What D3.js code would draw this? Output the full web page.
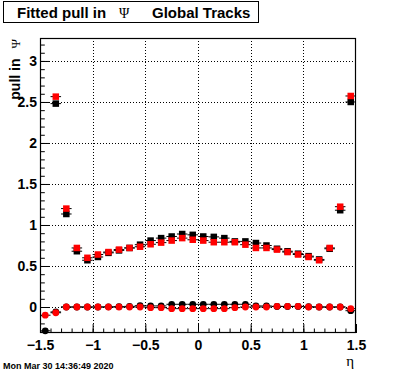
<!DOCTYPE html>
<html><head><meta charset="utf-8">
<script src="https://cdn.jsdelivr.net/npm/d3@7"></script>
<style>body{margin:0;background:#fff}svg{display:block}</style>
</head><body>
<svg id="c" width="396" height="372"></svg>
<script>
// ---- data ----
const etaBins = [-1.45,-1.35,-1.25,-1.15,-1.05,-0.95,-0.85,-0.75,-0.65,-0.55,-0.45,-0.35,-0.25,-0.15,-0.05,
                  0.05,0.15,0.25,0.35,0.45,0.55,0.65,0.75,0.85,0.95,1.05,1.15,1.25,1.35,1.45];
const binHalfWidth = 0.05;
// upper series (squares)
const sigmaBlack = [null,2.48,1.134,0.68,0.57,0.61,0.66,0.69,0.72,0.76,0.81,0.84,0.86,0.89,0.88,
                    0.86,0.855,0.84,0.80,0.80,0.78,0.75,0.71,0.68,0.65,0.62,0.58,0.71,1.18,2.50];
const sigmaRed   = [null,2.565,1.20,0.72,0.60,0.64,0.67,0.70,0.72,0.735,0.765,0.785,0.81,0.84,0.82,
                    0.81,0.79,0.79,0.79,0.76,0.72,0.72,0.70,0.67,0.64,0.61,0.57,0.72,1.223,2.573];
const sigmaErr   = [null,0.03,0.012,0.006,0.005,0.005,0.005,0.005,0.005,0.005,0.005,0.005,0.005,0.005,0.005,
                    0.005,0.005,0.005,0.005,0.005,0.005,0.005,0.005,0.005,0.005,0.005,0.005,0.006,0.012,0.03];
// lower series (circles)
const meanBlack  = [-0.29,-0.06,0.0,0.0,0.0,0.0,0.002,0.004,0.008,0.016,0.013,0.013,0.033,0.033,0.033,
                    0.033,0.033,0.033,0.033,0.033,0.013,0.013,0.006,0.006,0.006,0.003,0.0,0.0,0.0,-0.045];
const meanRed    = [-0.10,-0.07,0.0,0.0,0.0,0.0,0.0,0.0,0.0,0.0,-0.008,-0.008,-0.02,-0.02,-0.02,
                    -0.02,-0.02,-0.02,-0.008,0.0,0.0,0.0,0.008,0.008,0.008,0.0,0.0,0.0,0.0,-0.02];
const meanErr    = [0.03,0.02,0.006,0.005,0.005,0.005,0.005,0.005,0.005,0.005,0.005,0.005,0.005,0.005,0.005,
                    0.005,0.005,0.005,0.005,0.005,0.005,0.005,0.005,0.005,0.005,0.005,0.005,0.006,0.02,0.03];
const xTickValues = [-1.5,-1,-0.5,0,0.5,1,1.5];
const xTickLabels = ["\u22121.5","\u22121","\u22120.5","0","0.5","1","1.5"];
const yTickValues = [0,0.5,1,1.5,2,2.5,3];
const yTickLabels = ["0","0.5","1","1.5","2","2.5","3"];
const xDomain = [-1.5,1.5];
const yDomain = [-0.317,3.28];

// ---- layout ----
const L=40, R=356, T=38, B=333;
const svg = d3.select("#c");
const x = d3.scaleLinear().domain(xDomain).range([L,R]);
const y = d3.scaleLinear().domain(yDomain).range([B,T]);
const sans = "'Liberation Sans', Arial, Helvetica, sans-serif";
const serif = "'Liberation Serif', 'DejaVu Serif', serif";

svg.append("rect").attr("width",396).attr("height",372).attr("fill","#fff");

// grid
const grid = svg.append("g").attr("stroke","#000").attr("stroke-width",1).attr("stroke-dasharray","1,2");
grid.selectAll("line.gx").data(xTickValues.filter(v=>v>xDomain[0]&&v<xDomain[1])).join("line")
  .attr("x1",d=>Math.round(x(d))+0.5).attr("x2",d=>Math.round(x(d))+0.5).attr("y1",T).attr("y2",B);
grid.selectAll("line.gy").data(yTickValues).join("line")
  .attr("y1",d=>Math.round(y(d))+0.5).attr("y2",d=>Math.round(y(d))+0.5).attr("x1",L).attr("x2",R);

// minor ticks
const xMinor = d3.range(-15,16).map(i=>i/10);
const yMinor = d3.range(-3,33).map(i=>i/10);
svg.append("g").attr("transform",`translate(0,${B})`)
  .call(d3.axisBottom(x).tickValues(xMinor).tickSize(-4.5).tickFormat(""))
  .call(g=>g.select(".domain").remove());
svg.append("g").attr("transform",`translate(${L},0)`)
  .call(d3.axisLeft(y).tickValues(yMinor).tickSize(-4.8).tickFormat(""))
  .call(g=>g.select(".domain").remove());

// major axes
const xAxis = svg.append("g").attr("transform",`translate(0,${B})`)
  .call(d3.axisBottom(x).tickValues(xTickValues).tickSize(-9).tickPadding(4)
        .tickFormat((d,i)=>xTickLabels[i]));
xAxis.select(".domain").remove();
xAxis.selectAll("text").attr("font-family",sans).attr("font-weight","bold").attr("font-size",14).attr("fill","#000").attr("dy","0.95em");
const yAxis = svg.append("g").attr("transform",`translate(${L},0)`)
  .call(d3.axisLeft(y).tickValues(yTickValues).tickSize(-9.5).tickPadding(3)
        .tickFormat((d,i)=>yTickLabels[i]));
yAxis.select(".domain").remove();
yAxis.selectAll("text").attr("font-family",sans).attr("font-weight","bold").attr("font-size",14).attr("fill","#000");
svg.selectAll(".tick line").attr("stroke","#000");

// frame
svg.append("rect").attr("x",L+0.5).attr("y",T+0.5).attr("width",R-L-1).attr("height",B-T-1)
  .attr("fill","none").attr("stroke","#000").attr("stroke-width",1.2);

// series drawing
function drawSeries(vals, errs, color, shape){
  const pts = etaBins.map((e,i)=>({e, v:vals[i], err:errs[i]})).filter(d=>d.v!==null);
  const g = svg.append("g");
  g.selectAll("line.h").data(pts).join("line")
    .attr("x1",d=>x(d.e-binHalfWidth)).attr("x2",d=>x(d.e+binHalfWidth))
    .attr("y1",d=>y(d.v)).attr("y2",d=>y(d.v)).attr("stroke","#000").attr("stroke-width",1);
  g.selectAll("line.v").data(pts).join("line")
    .attr("x1",d=>x(d.e)).attr("x2",d=>x(d.e))
    .attr("y1",d=>y(d.v-d.err)).attr("y2",d=>y(d.v+d.err)).attr("stroke","#000").attr("stroke-width",1);
  if(shape==="square"){
    const s=6.5;
    g.selectAll("rect").data(pts).join("rect")
      .attr("x",d=>x(d.e)-s/2).attr("y",d=>y(d.v)-s/2).attr("width",s).attr("height",s).attr("fill",color);
  } else {
    g.selectAll("circle").data(pts).join("circle")
      .attr("cx",d=>x(d.e)).attr("cy",d=>y(d.v)).attr("r",3.4).attr("fill",color);
  }
}
drawSeries(sigmaBlack, sigmaErr, "#000", "square");
drawSeries(meanBlack, meanErr, "#000", "circle");
drawSeries(sigmaRed, sigmaErr, "#ff0000", "square");
drawSeries(meanRed, meanErr, "#ff0000", "circle");

// title box
svg.append("rect").attr("x",3.5).attr("y",1.5).attr("width",255).attr("height",21)
  .attr("fill","#fff").attr("stroke","#000").attr("stroke-width",1);
const tt = svg.append("text").attr("y",18).attr("font-size",15).attr("fill","#000");
tt.append("tspan").attr("x",17).attr("font-family",sans).attr("font-weight","bold").text("Fitted pull in");
tt.append("tspan").attr("x",119).attr("font-family",serif).attr("font-size",14).text("\u03A8");
tt.append("tspan").attr("x",152).attr("font-family",sans).attr("font-weight","bold").text("Global Tracks");

// y axis title
const yt = svg.append("text").attr("transform",`translate(20,${T+1}) rotate(-90)`)
  .attr("text-anchor","end").attr("font-size",14).attr("fill","#000");
yt.append("tspan").attr("font-family",sans).attr("font-weight","bold").text("pull in ");
yt.append("tspan").attr("font-family",serif).attr("font-size",13).attr("dx",6).text("\u03A8");

// x axis title
svg.append("text").attr("x",R-2).attr("y",366).attr("text-anchor","end")
  .attr("font-family",serif).attr("font-size",15).attr("fill","#000").text("\u03B7");

// date
svg.append("text").attr("x",3).attr("y",369).attr("font-family",sans).attr("font-weight","bold")
  .attr("font-size",9).attr("fill","#000").text("Mon Mar 30 14:36:49 2020");
</script>
</body></html>
